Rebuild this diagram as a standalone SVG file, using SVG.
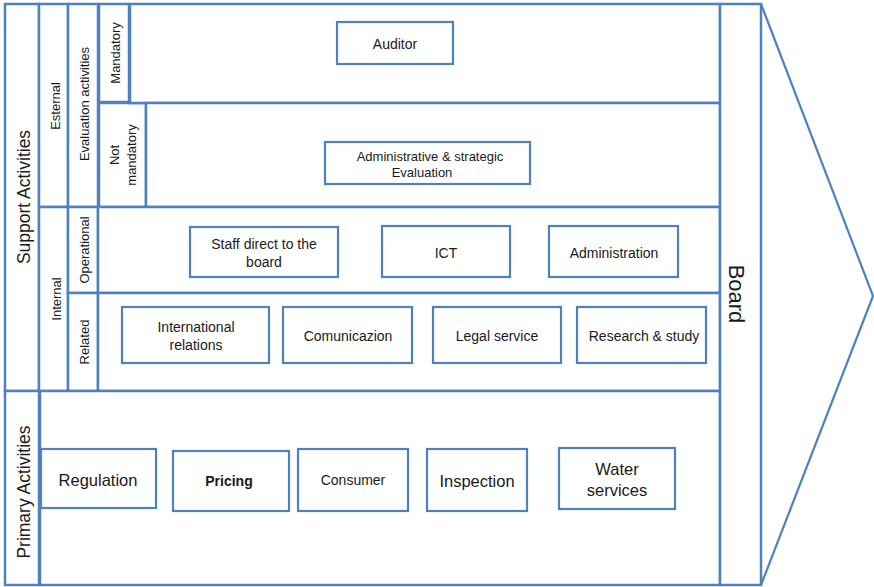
<svg xmlns="http://www.w3.org/2000/svg" width="874" height="587" viewBox="0 0 874 587">
  <style>
    .frame { fill: #ffffff; stroke: #4f81bd; stroke-width: 2.5; }
    .box { fill: #ffffff; stroke: #4f81bd; stroke-width: 2.2; }
    .arrow { fill: none; stroke: #4f81bd; stroke-width: 2.2; }
    text { font-family: "Liberation Sans", Arial, sans-serif; fill: #1a1a1a; text-anchor: middle; dominant-baseline: central; }
    .side { font-size: 17.5px; }
    .sub { font-size: 13px; }
    .lbl { font-size: 14px; }
    .eval { font-size: 13px; }
    .big { font-size: 16.5px; }
    .board { font-size: 22px; }
  </style>

  <!-- chevron tip on the right of the board column -->
  <g id="connectors">
    <polyline class="arrow" points="761,4 873,296 761,585"/>
  </g>

  <!-- left category bands -->
  <g id="support-activities">
    <rect class="frame" x="5" y="4" width="34" height="387"/>
    <text class="side" transform="translate(24,197) rotate(-90)">Support Activities</text>
  </g>
  <g id="primary-activities">
    <rect class="frame" x="5" y="391" width="34" height="194"/>
    <text class="side" transform="translate(24,492) rotate(-90)">Primary Activities</text>
  </g>
  <g id="esternal">
    <rect class="frame" x="39" y="4" width="29" height="203"/>
    <text class="sub" transform="translate(55,106) rotate(-90)">Esternal</text>
  </g>
  <g id="internal">
    <rect class="frame" x="39" y="207" width="29" height="184"/>
    <text class="sub" transform="translate(56,299) rotate(-90)">Internal</text>
  </g>
  <g id="evaluation-activities">
    <rect class="frame" x="68" y="4" width="30" height="203"/>
    <text class="sub" transform="translate(84,104) rotate(-90)">Evaluation activities</text>
  </g>
  <g id="operational">
    <rect class="frame" x="68" y="207" width="30" height="86"/>
    <text class="sub" transform="translate(84,250) rotate(-90)">Operational</text>
  </g>
  <g id="related">
    <rect class="frame" x="68" y="293" width="30" height="98"/>
    <text class="sub" transform="translate(84,342) rotate(-90)">Related</text>
  </g>
  <g id="mandatory">
    <rect class="frame" x="99" y="4" width="30" height="98"/>
    <text class="sub" transform="translate(115,53) rotate(-90)">Mandatory</text>
  </g>
  <g id="not-mandatory">
    <rect class="frame" x="99" y="103" width="47" height="104"/>
    <text class="sub" transform="translate(114,155) rotate(-90)">Not</text>
    <text class="sub" transform="translate(131,155) rotate(-90)">mandatory</text>
  </g>

  <!-- content rows -->
  <g id="row-mandatory">
    <rect class="frame" x="130" y="4" width="590" height="99"/>
  </g>
  <g id="row-not-mandatory">
    <rect class="frame" x="146" y="103" width="574" height="104"/>
  </g>
  <g id="row-operational">
    <rect class="frame" x="98" y="207" width="622" height="86"/>
  </g>
  <g id="row-related">
    <rect class="frame" x="98" y="293" width="622" height="98"/>
  </g>
  <g id="row-primary">
    <rect class="frame" x="40" y="391" width="680" height="194"/>
  </g>

  <g id="board">
    <rect class="frame" x="720" y="4" width="41" height="581"/>
    <text class="board" transform="translate(736,294) rotate(90)">Board</text>
  </g>

  <!-- activity boxes -->
  <g id="auditor">
    <rect class="box" x="337" y="22" width="116" height="42"/>
    <text class="lbl" x="395" y="44">Auditor</text>
  </g>
  <g id="admin-strategic-evaluation">
    <rect class="box" x="325" y="142" width="205" height="42"/>
    <text class="eval" x="430" y="156">Administrative &amp; strategic</text>
    <text class="eval" x="422" y="172">Evaluation</text>
  </g>
  <g id="staff-direct">
    <rect class="box" x="190" y="227" width="148" height="50"/>
    <text class="lbl" x="264" y="244">Staff direct to the</text>
    <text class="lbl" x="264" y="262">board</text>
  </g>
  <g id="ict">
    <rect class="box" x="382" y="226" width="128" height="51"/>
    <text class="lbl" x="446" y="253">ICT</text>
  </g>
  <g id="administration">
    <rect class="box" x="549" y="226" width="129" height="51"/>
    <text class="lbl" x="614" y="253">Administration</text>
  </g>
  <g id="international-relations">
    <rect class="box" x="122" y="307" width="147" height="56"/>
    <text class="lbl" x="196" y="327">International</text>
    <text class="lbl" x="196" y="345">relations</text>
  </g>
  <g id="comunicazion">
    <rect class="box" x="283" y="307" width="129" height="56"/>
    <text class="lbl" x="348" y="336">Comunicazion</text>
  </g>
  <g id="legal-service">
    <rect class="box" x="433" y="307" width="128" height="56"/>
    <text class="lbl" x="497" y="336">Legal service</text>
  </g>
  <g id="research-study">
    <rect class="box" x="577" y="307" width="129" height="56"/>
    <text class="lbl" x="644" y="336">Research &amp; study</text>
  </g>

  <g id="regulation">
    <rect class="box" x="41" y="449" width="115" height="59"/>
    <text class="big" x="98" y="480">Regulation</text>
  </g>
  <g id="pricing">
    <rect class="box" x="173" y="451" width="116" height="60"/>
    <text class="lbl" x="229" y="481" font-weight="bold">Pricing</text>
  </g>
  <g id="consumer">
    <rect class="box" x="298" y="449" width="110" height="62"/>
    <text class="lbl" x="353" y="480">Consumer</text>
  </g>
  <g id="inspection">
    <rect class="box" x="427" y="449" width="100" height="62"/>
    <text class="big" x="477" y="481">Inspection</text>
  </g>
  <g id="water-services">
    <rect class="box" x="559" y="448" width="116" height="61"/>
    <text class="big" x="617" y="469">Water</text>
    <text class="big" x="617" y="490">services</text>
  </g>
</svg>
